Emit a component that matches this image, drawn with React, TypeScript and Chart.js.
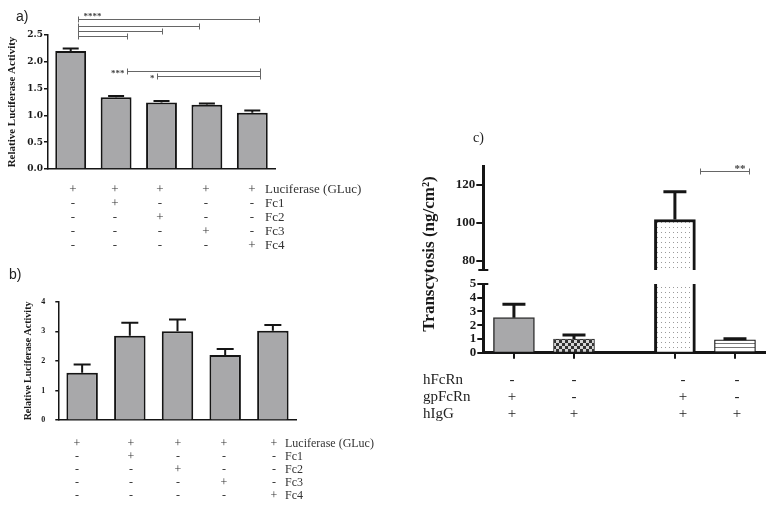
import React, { useEffect, useRef } from "react";
import { Chart, registerables } from "chart.js";
Chart.register(...registerables);

// ---------------- Panel a data ----------------
const aCategories = ["GLuc", "GLuc+Fc1", "GLuc+Fc2", "GLuc+Fc3", "GLuc+Fc4"];
const aValues = [2.2, 1.34, 1.24, 1.2, 1.05];
const aErrors = [0.05, 0.02, 0.03, 0.02, 0.04];
const aTicks = [0, 0.5, 1.0, 1.5, 2.0, 2.5];
const aBrackets = [
  { from: 0.15, to: 4.15, y: 2.795, label: "****", place: "aboveStart" },
  { from: 0.15, to: 2.83, y: 2.67, label: "", place: "" },
  { from: 0.15, to: 2.0, y: 2.575, label: "", place: "" },
  { from: 0.15, to: 1.25, y: 2.48, label: "", place: "" },
  { from: 1.23, to: 4.17, y: 1.825, label: "***", place: "left" },
  { from: 1.91, to: 4.17, y: 1.73, label: "*", place: "left" },
];
const aRowLabels = ["Luciferase (GLuc)", "Fc1", "Fc2", "Fc3", "Fc4"];
const aSigns = [
  ["+", "+", "+", "+", "+"],
  ["-", "+", "-", "-", "-"],
  ["-", "-", "+", "-", "-"],
  ["-", "-", "-", "+", "-"],
  ["-", "-", "-", "-", "+"],
];

// ---------------- Panel b data ----------------
const bCategories = ["GLuc", "GLuc+Fc1", "GLuc+Fc2", "GLuc+Fc3", "GLuc+Fc4"];
const bValues = [1.6, 2.85, 3.0, 2.2, 3.02];
const bErrors = [0.28, 0.44, 0.4, 0.2, 0.19];
const bTicks = [0, 1, 2, 3, 4];
const bRowLabels = ["Luciferase (GLuc)", "Fc1", "Fc2", "Fc3", "Fc4"];
const bSigns = [
  ["+", "+", "+", "+", "+"],
  ["-", "+", "-", "-", "-"],
  ["-", "-", "+", "-", "-"],
  ["-", "-", "-", "+", "-"],
  ["-", "-", "-", "-", "+"],
];

// ---------------- Panel c data ----------------
const cCategories = ["gpFcRn + hIgG", "hIgG", "gpFcRn + hIgG (2)", "hIgG (2)"];
const cPositions = [1, 2, 3.68, 4.68];
const cValues = [2.55, 1.0, 101.7, 0.93];
const cErrors = [0.98, 0.29, 14.7, 0.08];
const cUpperTicks = [80, 100, 120];
const cLowerTicks = [0, 1, 2, 3, 4, 5];
const cBrackets = [{ from: 4.09, to: 4.91, y: 127.1, label: "**", place: "aboveEnd" }];
const cRowLabels = ["hFcRn", "gpFcRn", "hIgG"];
const cSigns = [
  ["-", "-", "-", "-"],
  ["+", "-", "+", "-"],
  ["+", "+", "+", "+"],
];

// ---------------- styling ----------------
const SERIF = "'Liberation Serif', 'Times New Roman', serif";
const SANS = "'Liberation Sans', Arial, sans-serif";
const DJSERIF = "'DejaVu Serif', serif";
const GRAY = "#a8a8aa";
const INK = "#151515";

function makeErrorPlugin(values: number[], errors: number[], cap: number, width: number) {
  return {
    id: "errorBars",
    afterDatasetsDraw(chart: any) {
      const meta = chart.getDatasetMeta(0);
      const ys = chart.scales.y;
      const { ctx, chartArea } = chart;
      ctx.save();
      ctx.beginPath();
      ctx.rect(chartArea.left - 30, chartArea.top - 1, chartArea.width + 60, chartArea.height + 1);
      ctx.clip();
      ctx.strokeStyle = INK;
      ctx.lineWidth = width;
      meta.data.forEach((el: any, i: number) => {
        const top = ys.getPixelForValue(values[i]);
        const e = ys.getPixelForValue(values[i] + errors[i]);
        ctx.beginPath();
        ctx.moveTo(el.x, top);
        ctx.lineTo(el.x, e);
        ctx.moveTo(el.x - cap / 2, e);
        ctx.lineTo(el.x + cap / 2, e);
        ctx.stroke();
      });
      ctx.restore();
    },
  };
}

function makeBracketPlugin(items: any[], font: string) {
  return {
    id: "brackets",
    afterDraw(chart: any) {
      const xs = chart.scales.x;
      const ys = chart.scales.y;
      const ctx = chart.ctx;
      ctx.save();
      ctx.strokeStyle = "#666";
      ctx.fillStyle = "#444";
      ctx.lineWidth = 1;
      ctx.font = font;
      items.forEach((b) => {
        const x1 = Math.round(xs.getPixelForValue(b.from)) + 0.5;
        const x2 = Math.round(xs.getPixelForValue(b.to)) + 0.5;
        const y = Math.round(ys.getPixelForValue(b.y)) + 0.5;
        ctx.beginPath();
        ctx.moveTo(x1, y);
        ctx.lineTo(x2, y);
        ctx.moveTo(x1, y - 3);
        ctx.lineTo(x1, y + 3);
        ctx.moveTo(x2, y - 3);
        ctx.lineTo(x2, y + 3);
        ctx.stroke();
        if (b.label) {
          ctx.textBaseline = "middle";
          if (b.place === "aboveStart") {
            ctx.textAlign = "left";
            ctx.fillText(b.label, x1 + 5, y - 3);
          } else if (b.place === "left") {
            ctx.textAlign = "right";
            ctx.fillText(b.label, x1 - 3, y + 2);
          } else if (b.place === "aboveEnd") {
            ctx.textAlign = "right";
            ctx.fillText(b.label, x2 - 4, y - 2);
          }
        }
      });
      ctx.restore();
    },
  };
}

// small horizontal caps where the broken y axis ends
function makeAxisCapPlugin(where: "top" | "bottom") {
  return {
    id: "axisCap",
    afterDraw(chart: any) {
      const { ctx, chartArea } = chart;
      const y = where === "top" ? chartArea.top : chartArea.bottom;
      ctx.save();
      ctx.strokeStyle = INK;
      ctx.lineWidth = 2;
      ctx.beginPath();
      ctx.moveTo(chartArea.left - 5, y);
      ctx.lineTo(chartArea.left + 5, y);
      ctx.stroke();
      ctx.restore();
    },
  };
}

function makePattern(kind: string) {
  const c = document.createElement("canvas");
  if (kind === "checker") {
    c.width = 6; c.height = 6;
    const g = c.getContext("2d")!;
    g.fillStyle = "#d6d6d6"; g.fillRect(0, 0, 6, 6);
    g.fillStyle = "#333"; g.fillRect(0, 0, 3, 3); g.fillRect(3, 3, 3, 3);
    return g.createPattern(c, "repeat");
  }
  if (kind === "dots") {
    c.width = 4; c.height = 5;
    const g = c.getContext("2d")!;
    g.fillStyle = "#fff"; g.fillRect(0, 0, 4, 5);
    g.fillStyle = "#9a9a9a"; g.fillRect(1, 2, 1, 1);
    return g.createPattern(c, "repeat");
  }
  c.width = 4; c.height = 4;
  const g = c.getContext("2d")!;
  g.fillStyle = "#fff"; g.fillRect(0, 0, 4, 4);
  g.fillStyle = "#777"; g.fillRect(0, 2, 4, 1);
  return g.createPattern(c, "repeat");
}

function ChartBox(props: { left: number; top: number; width: number; height: number; make: () => any }) {
  const ref = useRef<HTMLCanvasElement>(null);
  useEffect(() => {
    const chart = new Chart(ref.current as HTMLCanvasElement, props.make());
    return () => chart.destroy();
  }, []);
  return (
    <canvas
      ref={ref}
      width={props.width}
      height={props.height}
      style={{ position: "absolute", left: props.left, top: props.top, width: props.width, height: props.height, display: "block" }}
    />
  );
}

function Table(props: { cols: number[]; rows: number[]; signs: string[][]; labels: string[]; labelX: number; size: number; color: string }) {
  const out: any[] = [];
  const lh = props.size + 2;
  const font = `${props.size}px ${SERIF}`;
  props.signs.forEach((row, r) => {
    const top = Math.round(props.rows[r] - lh / 2);
    row.forEach((s, c) => {
      out.push(
        <div key={`s${r}-${c}`} style={{ position: "absolute", left: Math.round(props.cols[c] - 15), width: 30, top, height: lh, textAlign: "center", font, color: props.color, lineHeight: `${lh}px`, whiteSpace: "nowrap" }}>
          {s}
        </div>
      );
    });
    out.push(
      <div key={`l${r}`} style={{ position: "absolute", left: Math.round(props.labelX), top, height: lh, font, color: props.color, lineHeight: `${lh}px`, whiteSpace: "nowrap" }}>
        {props.labels[r]}
      </div>
    );
  });
  return <div style={{ position: "absolute", left: 0, top: 0, width: 774, height: 507, opacity: 0.995 }}>{out}</div>;
}

const baseOpts = {
  responsive: false,
  maintainAspectRatio: false,
  animation: false as const,
  devicePixelRatio: 1,
  events: [] as any[],
};

function makeA() {
  return {
    type: "bar",
    data: {
      labels: aCategories,
      datasets: [{ data: aValues, backgroundColor: GRAY, borderColor: INK, borderWidth: 2, barPercentage: 0.68, categoryPercentage: 1 }],
    },
    options: {
      ...baseOpts,
      layout: { padding: { left: 0, top: 35, right: 25, bottom: 13 } },
      plugins: { legend: { display: false }, tooltip: { enabled: false } },
      scales: {
        x: {
          type: "category", offset: true,
          ticks: { display: false }, grid: { display: false },
          border: { display: true, color: INK, width: 1.5 },
          afterFit: (s: any) => { s.height = 0; },
        },
        y: {
          min: 0, max: 2.5,
          afterBuildTicks: (s: any) => { s.ticks = aTicks.map((v) => ({ value: v })); },
          ticks: { autoSkip: false, padding: 1, color: "#1a1a1a", font: { family: DJSERIF, size: 9, weight: "bold" }, callback: (v: any) => Number(v).toFixed(1) },
          grid: { drawOnChartArea: false, drawTicks: true, tickLength: 4, color: INK, lineWidth: 1.5 },
          border: { display: true, color: INK, width: 1.5 },
          title: { display: true, text: "Relative Luciferase Activity", color: "#1a1a1a", font: { family: SERIF, size: 11, weight: "bold" }, padding: { top: 6, bottom: 0 } },
          afterFit: (s: any) => { s.width = 48; },
        },
      },
    },
    plugins: [makeErrorPlugin(aValues, aErrors, 16, 2), makeBracketPlugin(aBrackets, `bold 9px ${SERIF}`)],
  };
}

function makeB() {
  return {
    type: "bar",
    data: {
      labels: bCategories,
      datasets: [{ data: bValues, backgroundColor: GRAY, borderColor: INK, borderWidth: 2, barPercentage: 0.66, categoryPercentage: 1 }],
    },
    options: {
      ...baseOpts,
      layout: { padding: { left: 0, top: 16.7, right: 13.3, bottom: 10.7 } },
      plugins: { legend: { display: false }, tooltip: { enabled: false } },
      scales: {
        x: {
          type: "category", offset: true,
          ticks: { display: false }, grid: { display: false },
          border: { display: true, color: INK, width: 1.5 },
          afterFit: (s: any) => { s.height = 0; },
        },
        y: {
          min: 0, max: 4,
          afterBuildTicks: (s: any) => { s.ticks = bTicks.map((v) => ({ value: v })); },
          ticks: { autoSkip: false, padding: 10, color: "#1a1a1a", font: { family: SERIF, size: 8, weight: "bold" } },
          grid: { drawOnChartArea: false, drawTicks: true, tickLength: 3, color: INK, lineWidth: 1.5 },
          border: { display: true, color: INK, width: 1.5 },
          title: { display: true, text: "Relative Luciferase Activity", color: "#1a1a1a", font: { family: SERIF, size: 10, weight: "bold" }, padding: { top: 22, bottom: 0 } },
          afterFit: (s: any) => { s.width = 58.3; },
        },
      },
    },
    plugins: [makeErrorPlugin(bValues, bErrors, 17, 2)],
  };
}

function cDataset() {
  return {
    data: cPositions.map((x, i) => ({ x, y: cValues[i] })),
    backgroundColor: [GRAY, makePattern("checker"), makePattern("dots"), makePattern("lines")],
    borderColor: ["#333", "#333", INK, INK],
    borderWidth: [1.5, 1, 3, 1.2],
    barThickness: 41,
    clip: 0,
  };
}

function cXScale(show: boolean) {
  return {
    type: "linear", min: 0.49, max: 5.18, offset: false,
    display: show,
    afterBuildTicks: (s: any) => { s.ticks = cPositions.map((v) => ({ value: v })); },
    ticks: { display: false },
    grid: { display: true, offset: false, drawOnChartArea: false, drawTicks: true, tickLength: 6, color: INK, lineWidth: 2 },
    border: { display: true, color: INK, width: 3 },
    afterFit: (s: any) => { s.height = 0; },
  };
}

function makeCUpper() {
  return {
    type: "bar",
    data: { labels: cCategories, datasets: [cDataset()] },
    options: {
      ...baseOpts,
      layout: { padding: { left: 0, top: 26, right: 9, bottom: 15 } },
      plugins: { legend: { display: false }, tooltip: { enabled: false } },
      scales: {
        x: cXScale(false),
        y: {
          min: 75, max: 130,
          afterBuildTicks: (s: any) => { s.ticks = cUpperTicks.map((v) => ({ value: v })); },
          ticks: { autoSkip: false, padding: 1, color: "#1a1a1a", font: { family: SERIF, size: 13, weight: "bold" } },
          grid: { drawOnChartArea: false, drawTicks: true, tickLength: 7, color: INK, lineWidth: 2 },
          border: { display: true, color: INK, width: 3 },
          afterFit: (s: any) => { s.width = 83.3; },
        },
      },
    },
    plugins: [makeErrorPlugin(cValues, cErrors, 23, 3), makeBracketPlugin(cBrackets, `bold 11px ${SERIF}`), makeAxisCapPlugin("bottom")],
  };
}

function makeCLower() {
  return {
    type: "bar",
    data: { labels: cCategories, datasets: [cDataset()] },
    options: {
      ...baseOpts,
      layout: { padding: { left: 0, top: 19, right: 9, bottom: 17.3 } },
      plugins: { legend: { display: false }, tooltip: { enabled: false } },
      scales: {
        x: cXScale(true),
        y: {
          min: 0, max: 5,
          afterBuildTicks: (s: any) => { s.ticks = cLowerTicks.map((v) => ({ value: v })); },
          ticks: { autoSkip: false, padding: 1, color: "#1a1a1a", font: { family: SERIF, size: 13, weight: "bold" } },
          grid: { drawOnChartArea: false, drawTicks: true, tickLength: 6, color: INK, lineWidth: 2 },
          border: { display: true, color: INK, width: 3 },
          afterFit: (s: any) => { s.width = 83.3; },
        },
      },
    },
    plugins: [makeErrorPlugin(cValues, cErrors, 23, 3), makeAxisCapPlugin("top")],
  };
}

export default function App() {
  return (
    <div style={{ position: "absolute", left: 0, top: 0, width: 774, height: 507, background: "#fff", overflow: "hidden" }}>
      <ChartBox left={0} top={0} width={300} height={182} make={makeA} />
      <ChartBox left={0} top={285} width={310} height={150} make={makeB} />
      <ChartBox left={400} top={140} width={374} height={145} make={makeCUpper} />
      <ChartBox left={400} top={265} width={374} height={105} make={makeCLower} />

      <div style={{ position: "absolute", left: 16, top: 8, height: 16, font: `14px ${SANS}`, color: "#222", lineHeight: "16px" }}>a)</div>
      <div style={{ position: "absolute", left: 9, top: 266, height: 16, font: `14px ${SANS}`, color: "#222", lineHeight: "16px" }}>b)</div>
      <div style={{ position: "absolute", left: 473, top: 130, height: 16, font: `14px ${SERIF}`, color: "#222", lineHeight: "16px" }}>c)</div>
      <div style={{ position: "absolute", left: 428, top: 254, transform: "translate(-50%,-50%) rotate(-90deg)", font: `bold 17px ${SERIF}`, color: "#1a1a1a", whiteSpace: "nowrap", lineHeight: 1 }}>
        Transcytosis (ng/cm²)
      </div>

      <Table cols={[73, 115, 160, 206, 252]} rows={[188, 202, 216, 230, 244]} signs={aSigns} labels={aRowLabels} labelX={265} size={13} color="#333" />
      <Table cols={[77, 131, 178, 224, 274]} rows={[443, 456, 469, 482, 495]} signs={bSigns} labels={bRowLabels} labelX={285} size={12} color="#333" />
      <Table cols={[512, 574, 683, 737]} rows={[379, 396, 413]} signs={cSigns} labels={cRowLabels} labelX={423} size={15} color="#222" />
    </div>
  );
}
